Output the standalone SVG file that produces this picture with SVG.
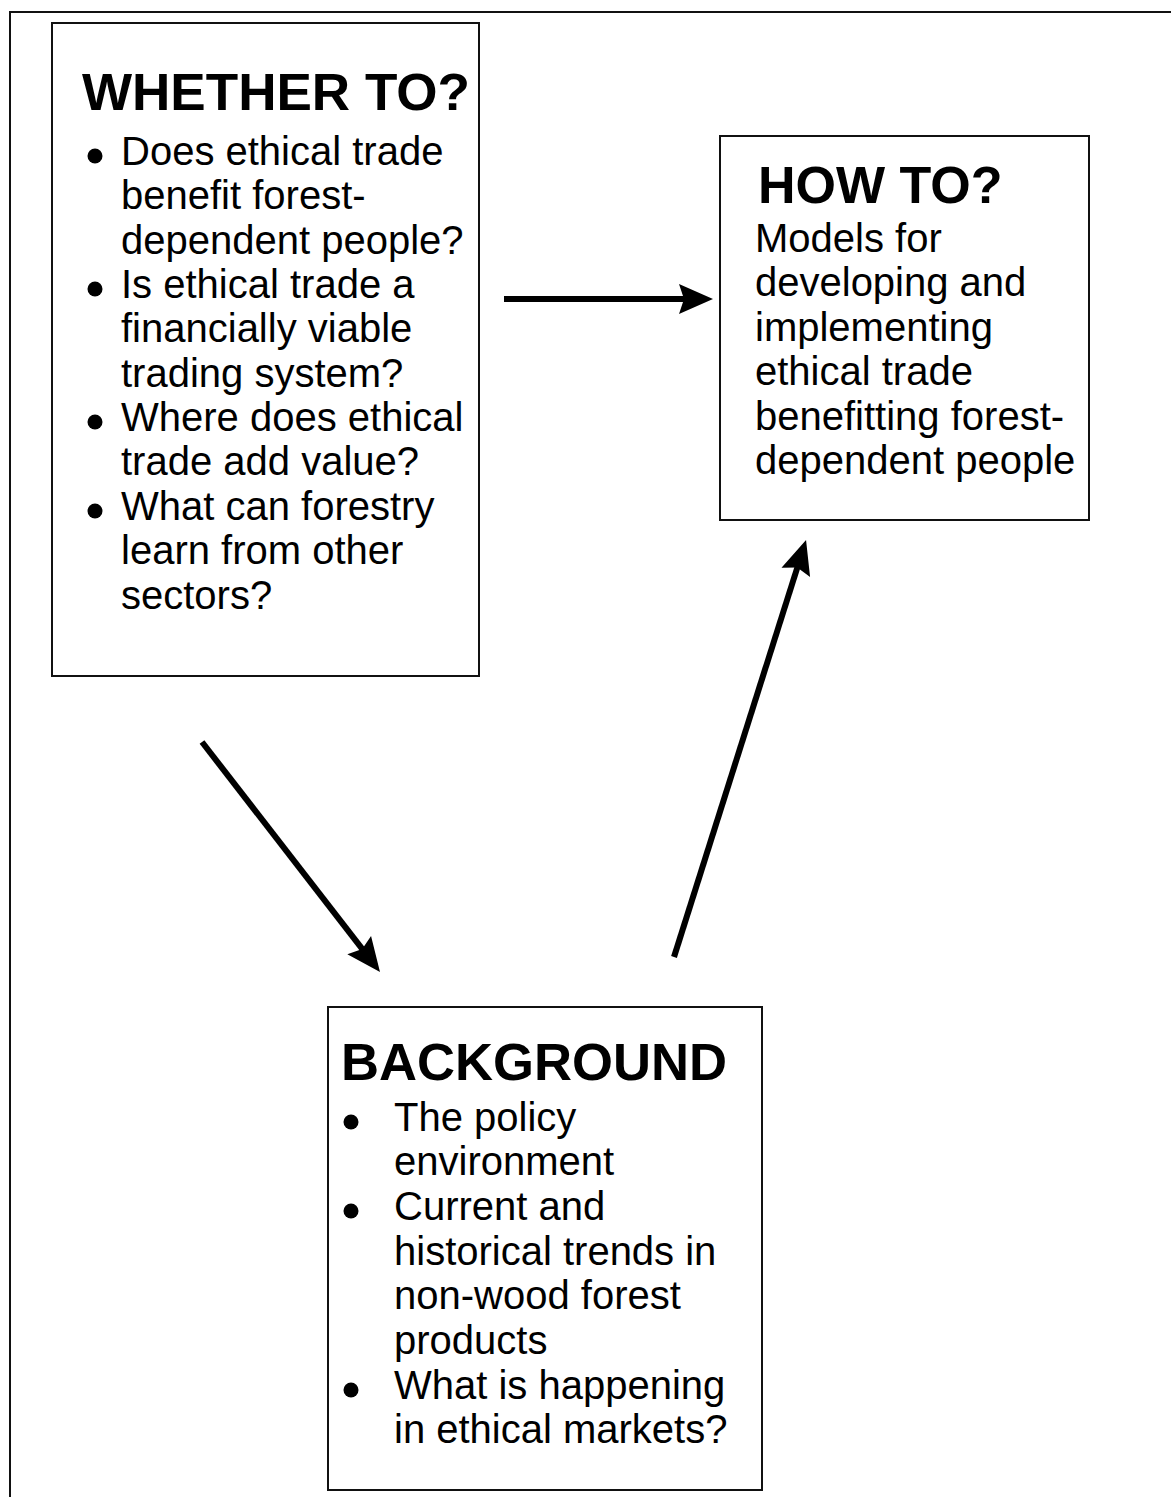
<svg xmlns="http://www.w3.org/2000/svg" width="1171" height="1497" viewBox="0 0 1171 1497">
  <style>
    .box { fill: #ffffff; stroke: #111111; stroke-width: 2; }
    .frame { fill: none; stroke: #111111; stroke-width: 2; }
    .head { font-family: "Liberation Sans", Arial, sans-serif; font-size: 52px; font-weight: bold; fill: #000000; }
    .body { font-family: "Liberation Sans", Arial, sans-serif; font-size: 40px; fill: #000000; }
    .bullet { fill: #000000; }
    .conn { stroke: #000000; stroke-width: 6; fill: none; marker-end: url(#ah); }
  </style>
  <defs>
    <marker id="ah" markerUnits="userSpaceOnUse" markerWidth="40" markerHeight="36" viewBox="-36 -18 38 36" refX="-25" refY="0" orient="auto">
      <path d="M0,0 L-34,-15 L-29,0 L-34,15 Z" fill="#000000"/>
    </marker>
  </defs>
  <rect x="0" y="0" width="1171" height="1497" fill="#ffffff"/>
  <g id="frame">
    <path class="frame" d="M1171,12 H10 V1497"/>
  </g>

  <g id="whether-to">
    <rect class="box" x="52" y="23" width="427" height="653"/>
    <text class="head" x="82" y="110" textLength="388" lengthAdjust="spacingAndGlyphs">WHETHER TO?</text>
    <circle class="bullet" cx="95" cy="156" r="7.5"/>
    <circle class="bullet" cx="95" cy="289" r="7.5"/>
    <circle class="bullet" cx="95" cy="422" r="7.5"/>
    <circle class="bullet" cx="95" cy="511" r="7.5"/>
    <text class="body" x="121" y="165">Does ethical trade</text>
    <text class="body" x="121" y="209">benefit forest-</text>
    <text class="body" x="121" y="254">dependent people?</text>
    <text class="body" x="121" y="298">Is ethical trade a</text>
    <text class="body" x="121" y="342">financially viable</text>
    <text class="body" x="121" y="387">trading system?</text>
    <text class="body" x="121" y="431">Where does ethical</text>
    <text class="body" x="121" y="475">trade add value?</text>
    <text class="body" x="121" y="520">What can forestry</text>
    <text class="body" x="121" y="564">learn from other</text>
    <text class="body" x="121" y="609">sectors?</text>
  </g>

  <g id="how-to">
    <rect class="box" x="720" y="136" width="369" height="384"/>
    <text class="head" x="758" y="203">HOW TO?</text>
    <text class="body" x="755" y="252">Models for</text>
    <text class="body" x="755" y="296">developing and</text>
    <text class="body" x="755" y="341">implementing</text>
    <text class="body" x="755" y="385">ethical trade</text>
    <text class="body" x="755" y="430">benefitting forest-</text>
    <text class="body" x="755" y="474">dependent people</text>
  </g>

  <g id="background">
    <rect class="box" x="328" y="1007" width="434" height="483"/>
    <text class="head" x="341" y="1080" textLength="386" lengthAdjust="spacingAndGlyphs">BACKGROUND</text>
    <circle class="bullet" cx="351" cy="1122" r="7.5"/>
    <circle class="bullet" cx="351" cy="1211" r="7.5"/>
    <circle class="bullet" cx="351" cy="1390" r="7.5"/>
    <text class="body" x="394" y="1131">The policy</text>
    <text class="body" x="394" y="1175">environment</text>
    <text class="body" x="394" y="1220">Current and</text>
    <text class="body" x="394" y="1265">historical trends in</text>
    <text class="body" x="394" y="1309">non-wood forest</text>
    <text class="body" x="394" y="1354">products</text>
    <text class="body" x="394" y="1399">What is happening</text>
    <text class="body" x="394" y="1443">in ethical markets?</text>
  </g>

  <g id="connectors">
    <line class="conn" x1="504" y1="299" x2="688" y2="299"/>
    <line class="conn" x1="202" y1="742" x2="364.7" y2="952.2"/>
    <line class="conn" x1="674" y1="957" x2="798.5" y2="563.8"/>
  </g>
</svg>
